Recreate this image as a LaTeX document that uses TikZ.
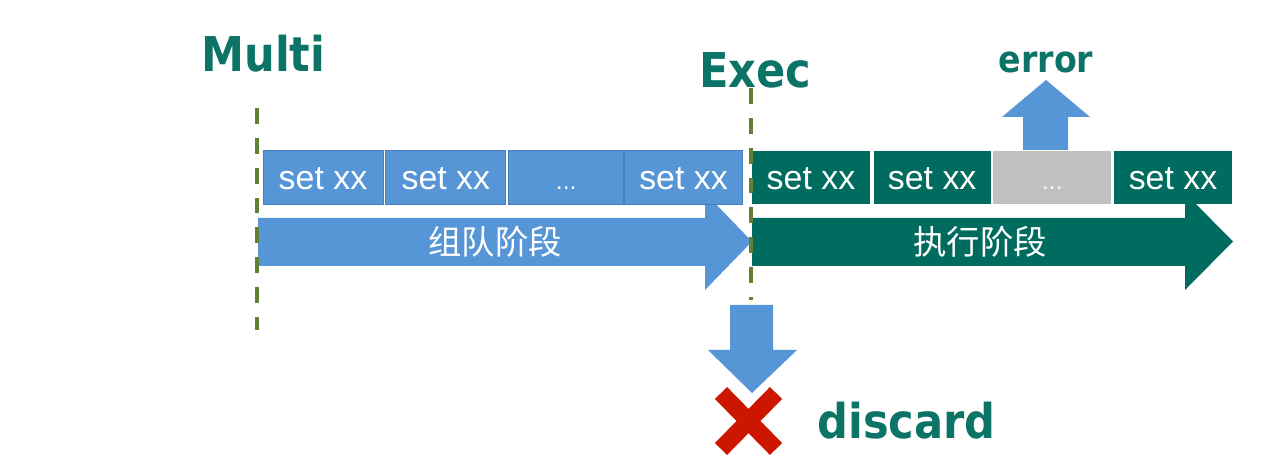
\documentclass[tikz,border=0pt]{standalone}
\usepackage{fontspec}
\setmainfont{Liberation Sans}
\newfontfamily\headfont{DejaVu Sans}[FakeStretch=0.9]
\newfontfamily\cjk{Noto Sans CJK SC}
\usetikzlibrary{positioning}

\definecolor{queueblue}{RGB}{86,150,215}
\definecolor{queueline}{RGB}{70,125,190}
\definecolor{runteal}{RGB}{0,108,96}
\definecolor{labelteal}{RGB}{12,116,102}
\definecolor{skipgray}{RGB}{192,192,192}
\definecolor{markgreen}{RGB}{98,128,52}
\definecolor{dropred}{RGB}{205,22,0}

\begin{document}
\begin{tikzpicture}[x=0.02cm, y=-0.02cm,
    cmdbox/.style={minimum height=1.08cm, inner xsep=0pt, inner ysep=0pt,
      text height=0.6cm, text depth=0.1cm, text=white,
      font=\fontsize{19.3}{22}\selectfont},
    queuebox/.style={cmdbox, fill=queueblue, draw=queueline, line width=0.5pt},
    runbox/.style={cmdbox, fill=runteal},
    stagetext/.style={text=white, inner sep=0pt, font=\cjk\fontsize{19}{22}\selectfont},
    headtext/.style={text=labelteal, inner sep=0pt, anchor=base west,
      font=\headfont\bfseries\fontsize{27.3}{30}\selectfont},
    smallhead/.style={text=labelteal, inner sep=0pt, anchor=base,
      font=\headfont\bfseries\fontsize{21}{24}\selectfont},
    marker/.style={markgreen, line width=2pt, dash pattern=on 9pt off 8pt}]
    \useasboundingbox (0,0) rectangle (1263,465);
    % Stage arrows
    \fill[queueblue] (258,218) -- (705,218) -- (705,193) -- (752,241.5)
        -- (705,290) -- (705,266) -- (258,266) -- cycle;
    \fill[runteal] (752,218) -- (1185,218) -- (1185,193) -- (1233,241.5)
        -- (1185,290) -- (1185,266) -- (752,266) -- cycle;
    \node[stagetext] (queuestage) at (495,241.5) {组队阶段};
    \node[stagetext] (runstage) at (980,241.5) {执行阶段};
    % Queued commands
    \node[queuebox, minimum width=2.4cm] (q1) at (323,177.5) {set xx};
    \node[queuebox, minimum width=2.4cm, right=0.04cm of q1] (q2) {set xx};
    \node[queuebox, minimum width=2.3cm, right=0.04cm of q2] (q3) {\fontsize{14}{16}\selectfont...};
    \node[queuebox, minimum width=2.36cm, right=0cm of q3] (q4) {set xx};
    % Executed commands
    \node[runbox, minimum width=2.36cm] (r1) at (811,177.5) {set xx};
    \node[runbox, minimum width=2.34cm, right=0.06cm of r1] (r2) {set xx};
    \node[cmdbox, fill=skipgray, text=white!85!skipgray, minimum width=2.36cm,
        right=0.04cm of r2] (skip) {\fontsize{14}{16}\selectfont...};
    \node[runbox, minimum width=2.36cm, right=0.04cm of skip] (r4) {set xx};
    % Error and discard
    \fill[queueblue] (1023,150) -- (1023,117) -- (1002,117) -- (1046,80)
        -- (1090,117) -- (1068,117) -- (1068,150) -- cycle;
    \node[smallhead] (error) at (1046,73) {error};
    \draw[dropred, line width=9.7pt] (721,393) -- (776,449) (721,449) -- (776,393);
    \fill[queueblue] (730,305) -- (773,305) -- (773,350) -- (797,350)
        -- (752,393) -- (708,350) -- (730,350) -- cycle;
    \node[headtext] (discard) at (817,438) {discard};
    % Phase markers
    \node[headtext] (multi) at (201,72) {Multi};
    \node[headtext] (exec) at (699,88) {Exec};
    \draw[marker] (257,108) -- (257,330);
    \draw[marker] (751,88) -- (751,300);
\end{tikzpicture}
\end{document}
